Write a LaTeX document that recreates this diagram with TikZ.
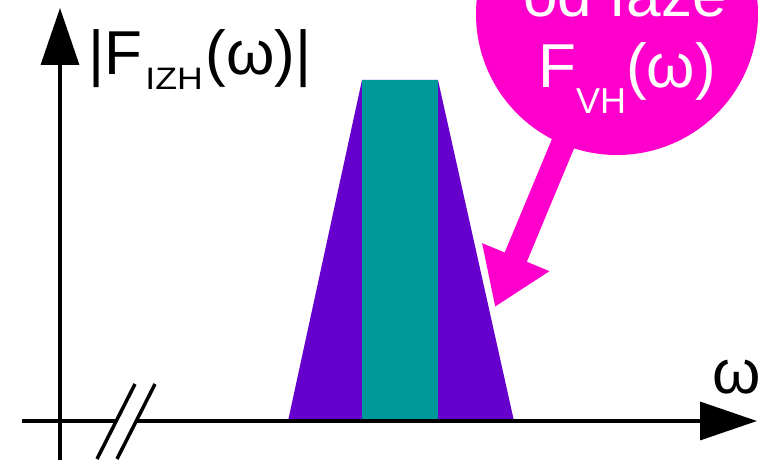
\documentclass[tikz,border=0pt]{standalone}
\usepackage{fontspec}
\usepackage{graphicx}
\setmainfont{Liberation Sans}
\usetikzlibrary{arrows.meta}
\definecolor{bubblemag}{RGB}{255,0,204}
\definecolor{trappurple}{RGB}{102,0,204}
\definecolor{bandteal}{RGB}{0,153,153}
\begin{document}
\begin{tikzpicture}[x=1pt,y=-1pt,
  axisline/.style={line width=3.5pt, black},
  axistipv/.style={-{Triangle[length=57pt,width=38pt]}},
  breakline/.style={line width=3.5pt, black},
  bigtext/.style={inner sep=0pt, anchor=base, font=\fontsize{62}{70}\selectfont},
  whitetext/.style={bigtext, text=white},
  bubble/.style={circle, fill=bubblemag, minimum size=282pt, inner sep=0pt},
  pointer/.style={bubblemag, line width=24pt, -{Triangle[length=54pt,width=69pt]}}
]
\useasboundingbox (0,0) rectangle (769,460);
% spectrum shapes
\fill[trappurple] (288,421) -- (362,80) -- (438,80) -- (514,421) -- cycle;
\fill[bandteal] (362,80) rectangle (438,421);
% axes
\coordinate (ybot) at (60,462);
\coordinate (ytop) at (60,8);
\coordinate (xleft) at (22,421);
\coordinate (xgapL) at (116,421);
\coordinate (xgapR) at (136,421);
\coordinate (xright) at (757,421);
\draw[axisline, axistipv] (ybot) -- (ytop);
\draw[axisline] (xleft) -- (xgapL);
\draw[axisline, axistipv] (xgapR) -- (xright);
% axis break
\coordinate (b1a) at (97,459); \coordinate (b1b) at (135,384);
\coordinate (b2a) at (117,459); \coordinate (b2b) at (155,384);
\draw[breakline] (b1a) -- (b1b);
\draw[breakline] (b2a) -- (b2b);
% labels
\node[bigtext] (ylabel) at (200,75) {|F\hspace{3pt}\raisebox{-15pt}{\scalebox{1.15}[1]{\fontsize{31}{31}\selectfont IZH}}\hspace{3pt}(ω)|};
\node[bigtext] (xlabel) at (737,393) {ω};
% bubble
\node[bubble] (bub) at (617,14) {};
\coordinate (tip) at (495,307);
\draw[pointer] (bub.center) -- (tip);
\node[whitetext] (line1) at (625,17) {od faze};
\node[whitetext] (line2) at (627,88) {F\raisebox{-26pt}{\fontsize{36}{36}\selectfont VH}(ω)};
\end{tikzpicture}
\end{document}
